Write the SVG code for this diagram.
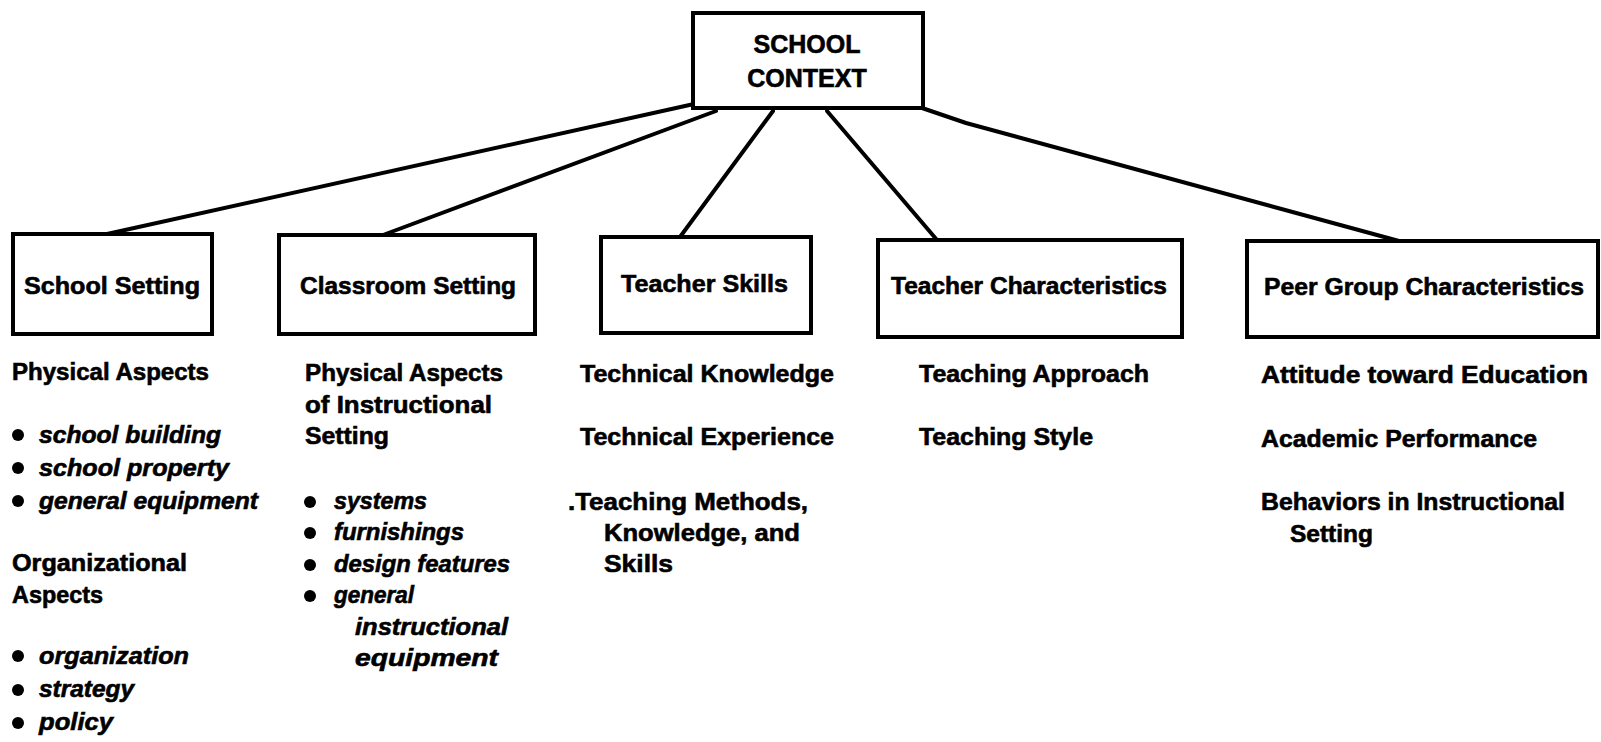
<svg xmlns="http://www.w3.org/2000/svg" width="1601" height="742" viewBox="0 0 1601 742">
<style>
.box{fill:#fff;stroke:#000;stroke-width:4}
.con{fill:none;stroke:#000;stroke-width:4;stroke-linecap:round;stroke-linejoin:round}
text{font-family:"Liberation Sans",Arial,sans-serif;font-weight:bold;fill:#000;stroke:#000;stroke-width:0.6}
.t{font-size:25px}
.lbl{font-size:24px}
.b{font-size:23.5px}
.i{font-size:23px;font-style:italic}
.dot{fill:#000}
</style>
<rect width="1601" height="742" fill="#fff"/>
<g id="connectors">
<line class="con" x1="694" y1="104" x2="107" y2="234"/>
<line class="con" x1="716" y1="111" x2="383" y2="235"/>
<line class="con" x1="773" y1="111" x2="680" y2="237"/>
<line class="con" x1="827" y1="111" x2="937" y2="240"/>
<polyline class="con" points="922,108 966,123 1399,241"/>
</g>
<g id="school-context">
<rect class="box" x="693" y="13" width="230" height="95"/>
<text class="t" x="807" y="53" text-anchor="middle">SCHOOL</text>
<text class="t" x="807" y="87" text-anchor="middle">CONTEXT</text>
</g>
<g id="school-setting">
<rect class="box" x="13" y="234" width="199" height="100"/>
<text class="lbl" x="24" y="294" textLength="176" lengthAdjust="spacingAndGlyphs">School Setting</text>
<text class="b" x="12" y="380" textLength="197" lengthAdjust="spacingAndGlyphs">Physical Aspects</text>
<circle class="dot" cx="18" cy="435" r="6"/>
<text class="i" x="39" y="443" textLength="182" lengthAdjust="spacingAndGlyphs">school building</text>
<circle class="dot" cx="18" cy="468" r="6"/>
<text class="i" x="39" y="476" textLength="190" lengthAdjust="spacingAndGlyphs">school property</text>
<circle class="dot" cx="18" cy="501" r="6"/>
<text class="i" x="39" y="509" textLength="219" lengthAdjust="spacingAndGlyphs">general equipment</text>
<text class="b" x="12" y="571" textLength="175" lengthAdjust="spacingAndGlyphs">Organizational</text>
<text class="b" x="12" y="603" textLength="91" lengthAdjust="spacingAndGlyphs">Aspects</text>
<circle class="dot" cx="18" cy="656" r="6"/>
<text class="i" x="39" y="664" textLength="150" lengthAdjust="spacingAndGlyphs">organization</text>
<circle class="dot" cx="18" cy="690" r="6"/>
<text class="i" x="39" y="697" textLength="95" lengthAdjust="spacingAndGlyphs">strategy</text>
<circle class="dot" cx="18" cy="723" r="6"/>
<text class="i" x="39" y="730" textLength="74" lengthAdjust="spacingAndGlyphs">policy</text>
</g>
<g id="classroom-setting">
<rect class="box" x="279" y="235" width="256" height="99"/>
<text class="lbl" x="300" y="294" textLength="216" lengthAdjust="spacingAndGlyphs">Classroom Setting</text>
<text class="b" x="305" y="381" textLength="198" lengthAdjust="spacingAndGlyphs">Physical Aspects</text>
<text class="b" x="305" y="413" textLength="187" lengthAdjust="spacingAndGlyphs">of Instructional</text>
<text class="b" x="305" y="444" textLength="84" lengthAdjust="spacingAndGlyphs">Setting</text>
<circle class="dot" cx="310" cy="502" r="6"/>
<text class="i" x="334" y="509" textLength="93" lengthAdjust="spacingAndGlyphs">systems</text>
<circle class="dot" cx="310" cy="533" r="6"/>
<text class="i" x="334" y="540" textLength="130" lengthAdjust="spacingAndGlyphs">furnishings</text>
<circle class="dot" cx="310" cy="565" r="6"/>
<text class="i" x="334" y="572" textLength="176" lengthAdjust="spacingAndGlyphs">design features</text>
<circle class="dot" cx="310" cy="596" r="6"/>
<text class="i" x="334" y="603" textLength="80" lengthAdjust="spacingAndGlyphs">general</text>
<text class="i" x="355" y="635" textLength="153" lengthAdjust="spacingAndGlyphs">instructional</text>
<text class="i" x="355" y="666" textLength="143" lengthAdjust="spacingAndGlyphs">equipment</text>
</g>
<g id="teacher-skills">
<rect class="box" x="601" y="237" width="210" height="96"/>
<text class="lbl" x="621" y="292" textLength="167" lengthAdjust="spacingAndGlyphs">Teacher Skills</text>
<text class="b" x="580" y="382" textLength="254" lengthAdjust="spacingAndGlyphs">Technical Knowledge</text>
<text class="b" x="580" y="445" textLength="254" lengthAdjust="spacingAndGlyphs">Technical Experience</text>
<text class="b" x="568" y="510" textLength="240" lengthAdjust="spacingAndGlyphs">.Teaching Methods,</text>
<text class="b" x="604" y="541" textLength="196" lengthAdjust="spacingAndGlyphs">Knowledge, and</text>
<text class="b" x="604" y="572" textLength="69" lengthAdjust="spacingAndGlyphs">Skills</text>
</g>
<g id="teacher-characteristics">
<rect class="box" x="878" y="240" width="304" height="97"/>
<text class="lbl" x="891" y="294" textLength="276" lengthAdjust="spacingAndGlyphs">Teacher Characteristics</text>
<text class="b" x="919" y="382" textLength="230" lengthAdjust="spacingAndGlyphs">Teaching Approach</text>
<text class="b" x="919" y="445" textLength="174" lengthAdjust="spacingAndGlyphs">Teaching Style</text>
</g>
<g id="peer-group-characteristics">
<rect class="box" x="1247" y="241" width="351" height="96"/>
<text class="lbl" x="1264" y="295" textLength="320" lengthAdjust="spacingAndGlyphs">Peer Group Characteristics</text>
<text class="b" x="1261" y="383" textLength="327" lengthAdjust="spacingAndGlyphs">Attitude toward Education</text>
<text class="b" x="1261" y="447" textLength="276" lengthAdjust="spacingAndGlyphs">Academic Performance</text>
<text class="b" x="1261" y="510" textLength="304" lengthAdjust="spacingAndGlyphs">Behaviors in Instructional</text>
<text class="b" x="1290" y="542" textLength="83" lengthAdjust="spacingAndGlyphs">Setting</text>
</g>
</svg>
